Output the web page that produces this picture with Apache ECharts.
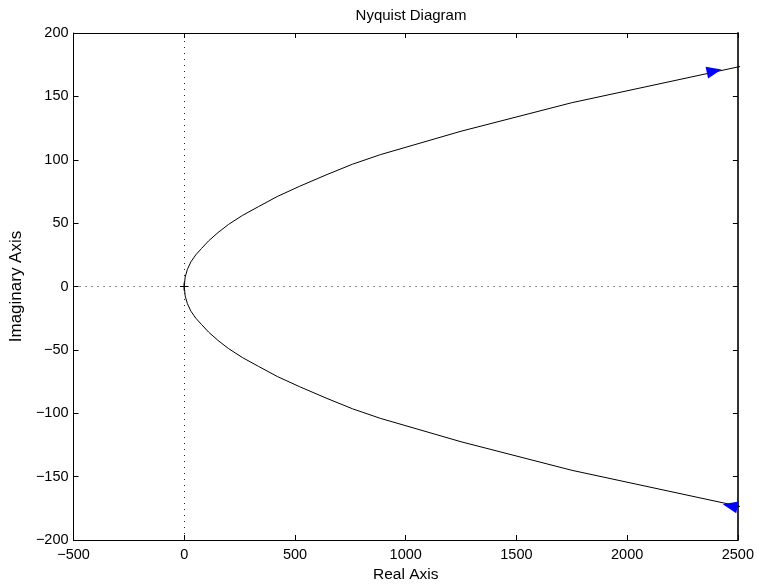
<!DOCTYPE html>
<html>
<head>
<meta charset="utf-8">
<script src="https://cdn.jsdelivr.net/npm/echarts@6/dist/echarts.min.js"></script>
<style>html,body{margin:0;padding:0;background:#fff}#c{width:757px;height:588px}</style>
</head>
<body>
<div id="c"></div>
<script>
// Upper branch (Real, Imag)
const reUpper = [0, 4, 14, 30, 52, 78, 110, 152, 200, 262, 335, 420, 520, 640, 760, 885, 1250, 1750, 3000];
const imUpper = [0, 7.5, 13.5, 19.5, 25, 30, 36, 42.5, 49, 56, 63, 71, 79, 88, 96.5, 104, 122.5, 145, 192];
// Lower branch (Real, Imag)
const reLower = [0, 4, 14, 30, 52, 78, 110, 152, 200, 262, 335, 420, 520, 640, 760, 885, 1250, 1750, 3000];
const imLower = [0, -7.5, -13.5, -19.5, -25, -30, -36, -42.5, -49, -56, -63, -71, -79, -88, -96.5, -104, -122.5, -145, -192];
// Direction arrows
const arrowRe = [2393, 2465];
const arrowIm = [170, -173];
const arrowRot = [-78, 78];
// Critical point
const critRe = [-1];
const critIm = [0];
// Axis ticks
const xTicks = {min: -500, max: 2500, interval: 500};
const yTicks = {min: -200, max: 200, interval: 50};

const FONT = 'Liberation Sans, Arial, Helvetica, sans-serif';
const fmt = v => String(v).replace('-', '\u2212');

const upper = reUpper.map((r, i) => [r, imUpper[i]]);
const lower = reLower.map((r, i) => [r, imLower[i]]);
const arrows = arrowRe.map((r, i) => ({value: [r, arrowIm[i]], symbolRotate: arrowRot[i]}));
const crit = critRe.map((r, i) => [r, critIm[i]]);

const axisCommon = {
  type: 'value',
  axisLine: {show: true, onZero: false, lineStyle: {color: '#000', width: 1}},
  axisTick: {show: true, inside: true, length: 5, lineStyle: {color: '#000'}},
  splitLine: {show: false},
};

const chart = echarts.init(document.getElementById('c'), null, {renderer: 'canvas'});
chart.setOption({
  animation: false,
  backgroundColor: '#fff',
  title: {
    text: 'Nyquist Diagram', left: 406, top: 3, textAlign: 'center',
    textStyle: {fontFamily: FONT, fontSize: 15, fontWeight: 'normal', color: '#000'}
  },
  grid: {left: 73, right: 17, top: 33, bottom: 46, containLabel: false},
  xAxis: [
    Object.assign({}, axisCommon, {
      position: 'bottom', min: xTicks.min, max: xTicks.max, interval: xTicks.interval,
      name: 'Real Axis', nameLocation: 'middle', nameGap: 27,
      nameTextStyle: {fontFamily: FONT, fontSize: 15.5, color: '#000'},
      axisLabel: {fontFamily: FONT, fontSize: 14.5, color: '#000', margin: 7, formatter: fmt}
    }),
    Object.assign({}, axisCommon, {
      position: 'top', min: xTicks.min, max: xTicks.max, interval: xTicks.interval,
      axisLabel: {show: false}
    })
  ],
  yAxis: [
    Object.assign({}, axisCommon, {
      position: 'left', min: yTicks.min, max: yTicks.max, interval: yTicks.interval,
      name: 'Imaginary Axis', nameLocation: 'middle', nameGap: 46,
      nameTextStyle: {fontFamily: FONT, fontSize: 17, color: '#000'},
      axisLabel: {fontFamily: FONT, fontSize: 14.5, color: '#000', margin: 5, formatter: fmt}
    }),
    Object.assign({}, axisCommon, {
      position: 'right', min: yTicks.min, max: yTicks.max, interval: yTicks.interval,
      axisLine: {show: true, onZero: false, lineStyle: {color: '#333', width: 2}},
      axisLabel: {show: false}
    })
  ],
  series: [
    {
      type: 'line', data: upper, symbol: 'none', clip: true,
      lineStyle: {color: '#000', width: 1}, z: 3,
      markLine: {
        silent: true, symbol: 'none', label: {show: false},
        lineStyle: {color: '#222', width: 1, type: [1, 5]},
        data: [{xAxis: 0}, {yAxis: 0}]
      }
    },
    {
      type: 'line', data: lower, symbol: 'none', clip: true,
      lineStyle: {color: '#000', width: 1}, z: 3
    },
    {
      type: 'scatter', data: arrows, symbol: 'triangle', symbolSize: [12, 15],
      itemStyle: {color: '#0000ff', opacity: 1}, z: 4, clip: false
    },
    {
      type: 'scatter', data: crit, symbol: 'path://M0,5L10,5M5,0L5,10', symbolSize: 8,
      itemStyle: {color: 'none', borderColor: '#000', borderWidth: 1, opacity: 1}, z: 5
    }
  ]
});
</script>
</body>
</html>
